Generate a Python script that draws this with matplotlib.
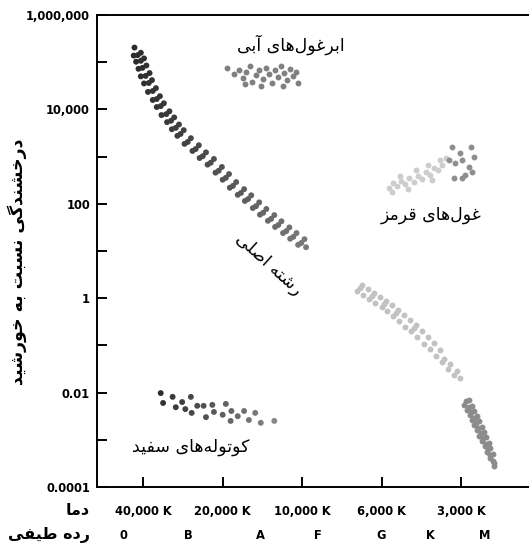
import matplotlib

matplotlib.use("Agg")
import matplotlib.pyplot as plt
from matplotlib.colors import LinearSegmentedColormap
import numpy as np

# x is the position along the temperature scale (0 = 40,000 K ... 4 = 3,000 K)
# y values are log10 of luminosity relative to the Sun
temp_pos = [0, 1, 2, 3, 4]
temp_labels = ["40,000 K", "20,000 K", "10,000 K", "6,000 K", "3,000 K"]
spec_pos = [-0.25, 0.57, 1.48, 2.20, 3.00, 3.62, 4.30]
spec_labels = ["0", "B", "A", "F", "G", "K", "M"]

lum_ticks = [1e-4, 1e-2, 1, 1e2, 1e4, 1e6]
lum_labels = ["0.0001", "0.01", "1", "100", "10,000", "1,000,000"]

ms_upper_x = [
    -0.11, -0.03, -0.12, -0.07, 0.01, -0.09, -0.03, 0.04, -0.06, -0.01,
    0.08, -0.03, 0.03, 0.11, 0.01, 0.07, 0.16, 0.06, 0.12, 0.21,
    0.12, 0.17, 0.26, 0.17, 0.22, 0.33, 0.23, 0.29, 0.39, 0.30,
    0.35, 0.45, 0.36, 0.41, 0.51, 0.43, 0.47, 0.60, 0.52, 0.56,
    0.70, 0.62, 0.66, 0.79, 0.71, 0.75, 0.89, 0.81, 0.85, 0.99,
    0.91, 0.95, 1.08, 1.00, 1.04, 1.17, 1.09, 1.13, 1.27, 1.19,
    1.23, 1.36, 1.28, 1.32, 1.46, 1.38, 1.42, 1.55, 1.47, 1.51,
    1.65, 1.57, 1.61, 1.74, 1.66, 1.70, 1.84, 1.76, 1.80, 1.93,
    1.85, 1.89, 2.03, 1.95, 1.99, 2.05,
]
ms_upper_log = [
    5.31, 5.20, 5.14, 5.15, 5.08, 5.01, 5.03, 4.93, 4.86, 4.88,
    4.77, 4.70, 4.71, 4.62, 4.55, 4.56, 4.45, 4.37, 4.39, 4.28,
    4.20, 4.22, 4.13, 4.05, 4.07, 3.96, 3.88, 3.90, 3.83, 3.73,
    3.76, 3.68, 3.58, 3.61, 3.56, 3.44, 3.48, 3.39, 3.27, 3.31,
    3.24, 3.12, 3.16, 3.09, 2.97, 3.01, 2.95, 2.83, 2.87, 2.78,
    2.66, 2.70, 2.63, 2.51, 2.55, 2.46, 2.34, 2.38, 2.31, 2.19,
    2.23, 2.18, 2.06, 2.10, 2.03, 1.91, 1.95, 1.89, 1.77, 1.81,
    1.76, 1.64, 1.68, 1.63, 1.51, 1.55, 1.50, 1.38, 1.42, 1.38,
    1.26, 1.30, 1.25, 1.13, 1.17, 1.08,
]

ms_lower_x = [
    2.75, 2.69, 2.73, 2.83, 2.77, 2.90, 2.84, 2.88, 2.98, 2.92,
    3.06, 3.00, 3.03, 3.13, 3.07, 3.21, 3.15, 3.18, 3.28, 3.22,
    3.36, 3.30, 3.43, 3.37, 3.41, 3.51, 3.45, 3.59, 3.53, 3.66,
    3.61, 3.74, 3.68, 3.79, 3.76, 3.86, 3.84, 3.95, 3.91, 3.99,
]
ms_lower_log = [
    0.29, 0.15, 0.21, 0.20, 0.06, 0.12, -0.02, 0.05, 0.03, -0.11,
    -0.05, -0.19, -0.12, -0.14, -0.28, -0.24, -0.38, -0.31, -0.35, -0.49,
    -0.46, -0.60, -0.56, -0.70, -0.63, -0.69, -0.83, -0.82, -0.96, -0.94,
    -1.08, -1.09, -1.22, -1.28, -1.36, -1.40, -1.50, -1.55, -1.63, -1.70,
]

m_dwarf_x = [
    4.06, 4.10, 4.04, 4.10, 4.14, 4.08, 4.13, 4.17, 4.11, 4.16,
    4.20, 4.14, 4.19, 4.23, 4.17, 4.22, 4.26, 4.20, 4.25, 4.29,
    4.23, 4.28, 4.32, 4.27, 4.31, 4.35, 4.30, 4.34, 4.37, 4.33,
    4.37, 4.40, 4.36, 4.40, 4.42, 4.41,
]
m_dwarf_log = [
    -2.18, -2.16, -2.26, -2.30, -2.28, -2.36, -2.42, -2.39, -2.47, -2.53,
    -2.50, -2.58, -2.64, -2.61, -2.69, -2.75, -2.72, -2.80, -2.86, -2.83,
    -2.91, -2.97, -2.95, -3.03, -3.09, -3.06, -3.14, -3.20, -3.18, -3.26,
    -3.32, -3.30, -3.38, -3.44, -3.49, -3.56,
]

supergiant_x = [
    1.06, 1.14, 1.20, 1.25, 1.30, 1.34, 1.37, 1.42, 1.46, 1.51,
    1.54, 1.58, 1.62, 1.66, 1.70, 1.73, 1.77, 1.81, 1.85, 1.89,
    1.92, 1.95, 1.28, 1.48, 1.76,
]
supergiant_log = [
    4.88, 4.75, 4.83, 4.67, 4.79, 4.92, 4.58, 4.73, 4.83, 4.64,
    4.88, 4.75, 4.56, 4.83, 4.69, 4.92, 4.77, 4.62, 4.86, 4.71,
    4.79, 4.56, 4.54, 4.50, 4.50,
]

giant_faint_x = [
    3.10, 3.15, 3.20, 3.25, 3.30, 3.35, 3.41, 3.46, 3.51, 3.56,
    3.61, 3.66, 3.71, 3.76, 3.81, 3.23, 3.43, 3.58, 3.73, 3.63,
    3.13, 3.33,
]
giant_faint_log = [
    2.33, 2.44, 2.38, 2.48, 2.42, 2.55, 2.46, 2.59, 2.53, 2.67,
    2.61, 2.76, 2.72, 2.82, 2.97, 2.59, 2.72, 2.82, 2.93, 2.50,
    2.25, 2.31,
]
giant_x = [3.89, 4.13, 3.99, 4.17, 3.92, 4.01, 4.10, 3.91, 4.01, 4.05, 3.85, 4.14]
giant_log = [3.20, 3.20, 3.08, 2.99, 2.86, 2.93, 2.78, 2.55, 2.55, 2.61, 2.93, 2.67]

dwarf_x = [
    0.22, 0.25, 0.37, 0.41, 0.49, 0.53, 0.60, 0.61, 0.68, 0.76,
    0.79, 0.87, 0.89, 1.00, 1.04, 1.11, 1.10, 1.19, 1.27, 1.33,
    1.41, 1.48, 1.65,
]
dwarf_log = [
    -2.01, -2.22, -2.09, -2.31, -2.20, -2.35, -2.09, -2.43, -2.28, -2.28,
    -2.52, -2.26, -2.41, -2.47, -2.24, -2.39, -2.60, -2.50, -2.39, -2.58,
    -2.43, -2.64, -2.60,
]

FORMS = {
    "ا": ("\ufe8d", "\ufe8e", None, None),
    "آ": ("\ufe81", "\ufe82", None, None),
    "ب": ("\ufe8f", "\ufe90", "\ufe91", "\ufe92"),
    "ت": ("\ufe95", "\ufe96", "\ufe97", "\ufe98"),
    "خ": ("\ufea5", "\ufea6", "\ufea7", "\ufea8"),
    "د": ("\ufea9", "\ufeaa", None, None),
    "ر": ("\ufead", "\ufeae", None, None),
    "ز": ("\ufeaf", "\ufeb0", None, None),
    "س": ("\ufeb1", "\ufeb2", "\ufeb3", "\ufeb4"),
    "ش": ("\ufeb5", "\ufeb6", "\ufeb7", "\ufeb8"),
    "ص": ("\ufeb9", "\ufeba", "\ufebb", "\ufebc"),
    "ط": ("\ufec1", "\ufec2", "\ufec3", "\ufec4"),
    "غ": ("\ufecd", "\ufece", "\ufecf", "\ufed0"),
    "ف": ("\ufed1", "\ufed2", "\ufed3", "\ufed4"),
    "ق": ("\ufed5", "\ufed6", "\ufed7", "\ufed8"),
    "ک": ("\ufb8e", "\ufb8f", "\ufb90", "\ufb91"),
    "گ": ("\ufb92", "\ufb93", "\ufb94", "\ufb95"),
    "ل": ("\ufedd", "\ufede", "\ufedf", "\ufee0"),
    "م": ("\ufee1", "\ufee2", "\ufee3", "\ufee4"),
    "ن": ("\ufee5", "\ufee6", "\ufee7", "\ufee8"),
    "ه": ("\ufee9", "\ufeea", "\ufeeb", "\ufeec"),
    "و": ("\ufeed", "\ufeee", None, None),
    "ی": ("\ufbfc", "\ufbfd", "\ufbfe", "\ufbff"),
}


def fa(text):
    # join Persian letters and put them in visual order (no shaping in matplotlib)
    out = []
    for i, ch in enumerate(text):
        if ch not in FORMS:
            if ch != "\u200c":
                out.append(ch)
            continue
        iso, fin, ini, med = FORMS[ch]
        prev = text[i - 1] if i > 0 else None
        nxt = text[i + 1] if i + 1 < len(text) else None
        join_prev = prev in FORMS and FORMS[prev][2] is not None
        join_next = ini is not None and nxt in FORMS
        if join_prev and join_next:
            out.append(med)
        elif join_prev:
            out.append(fin)
        elif join_next:
            out.append(ini)
        else:
            out.append(iso)
    return "".join(reversed(out))


def lum(logs):
    return 10 ** np.asarray(logs)


W, H = 529, 546
fig = plt.figure(figsize=(W / 100, H / 100), dpi=100)
ax = fig.add_axes([97 / W, 1 - 487 / H, 1 - 97 / W + 0.005, (487 - 15) / H])

ax.set_yscale("log")
ax.set_ylim(1e-4, 1e6)
ax.set_xlim(-0.582, 4.89)

ms_cmap = LinearSegmentedColormap.from_list("ms", ["#2b2b2b", "#7c7c7c"])
wd_cmap = LinearSegmentedColormap.from_list("wd", ["#2f2f2f", "#8a8a8a"])
s = 18

ax.scatter(ms_upper_x, lum(ms_upper_log), s=s, c=ms_upper_x, cmap=ms_cmap,
           vmin=-0.1, vmax=2.1, linewidths=0)
ax.scatter(ms_lower_x, lum(ms_lower_log), s=s, color="#c2c2c2", linewidths=0)
ax.scatter(m_dwarf_x, lum(m_dwarf_log), s=s, color="#8c8c8c", linewidths=0)
ax.scatter(supergiant_x, lum(supergiant_log), s=s, color="#808080", linewidths=0)
ax.scatter(giant_faint_x, lum(giant_faint_log), s=s, color="#cdcdcd", linewidths=0)
ax.scatter(giant_x, lum(giant_log), s=s, color="#8e8e8e", linewidths=0)
ax.scatter(dwarf_x, lum(dwarf_log), s=s, c=dwarf_x, cmap=wd_cmap,
           vmin=0.2, vmax=1.7, linewidths=0)

fa_font = "DejaVu Sans"
ax.text(1.86, 10 ** 5.36, fa("ابرغول‌های آبی"), ha="center", va="center",
        fontsize=12.5, family=fa_font)
ax.text(3.63, 10 ** 1.76, fa("غول‌های قرمز"), ha="center", va="center",
        fontsize=12.5, family=fa_font)
ax.text(1.58, 10 ** 0.72, fa("رشته اصلی"), ha="center", va="center",
        fontsize=12.5, family=fa_font, rotation=-42, rotation_mode="anchor")
ax.text(0.6, 10 ** -3.15, fa("کوتوله‌های سفید"), ha="center", va="center",
        fontsize=12.5, family=fa_font)

# axes frame
for side in ["left", "bottom", "top"]:
    ax.spines[side].set_linewidth(1.4)
ax.spines["right"].set_visible(False)

ax.set_yticks(lum_ticks, labels=lum_labels)
ax.set_yticks([1e-3, 1e-1, 1e1, 1e3, 1e5], minor=True)
ax.yaxis.set_minor_formatter(matplotlib.ticker.NullFormatter())
ax.tick_params(axis="y", which="both", direction="in", length=7, width=1.4,
               pad=5, labelsize=8.3)
ax.set_xticks(temp_pos, labels=temp_labels)
ax.tick_params(axis="x", which="both", direction="in", length=7, width=1.4,
               pad=13, labelsize=8.3)
for lab in ax.get_xticklabels() + ax.get_yticklabels():
    lab.set_fontweight("bold")

sec = ax.secondary_xaxis("bottom")
sec.set_xticks(spec_pos, labels=spec_labels)
sec.tick_params(length=0, pad=30, labelsize=8.3)
sec.spines["bottom"].set_visible(False)
for lab in sec.get_xticklabels():
    lab.set_fontweight("bold")

fig.text(17 / W, 1 - 262 / H, fa("درخشندگی نسبت به خورشید"), rotation=90,
         ha="center", va="center", fontsize=12.5, fontweight="bold", family=fa_font)
fig.text(90 / W, 1 - 510 / H, fa("دما"), ha="right", va="center",
         fontsize=11.5, fontweight="bold", family=fa_font)
fig.text(90 / W, 1 - 535 / H, fa("رده طیفی"), ha="right", va="center",
         fontsize=11.5, fontweight="bold", family=fa_font)

fig.savefig("out.png", dpi=100)
